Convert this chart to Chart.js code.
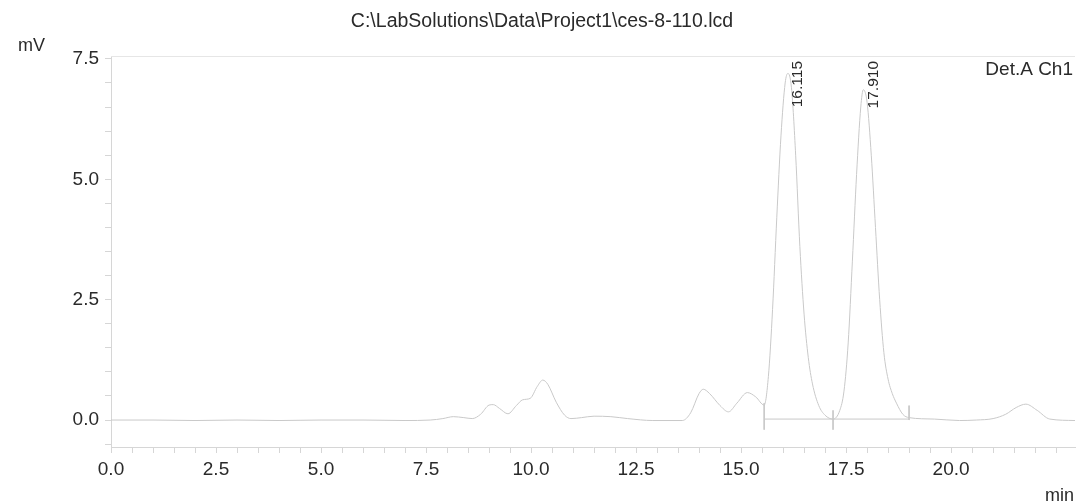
<!DOCTYPE html>
<html>
<head>
<meta charset="utf-8">
<script src="https://cdn.jsdelivr.net/npm/chart.js@4.4.1/dist/chart.umd.min.js"></script>
<style>
  html, body { margin: 0; padding: 0; background: #fff; }
  #wrap { width: 1077px; height: 503px; }
</style>
</head>
<body>
<div id="wrap"><canvas id="myChart" width="1077" height="503"></canvas></div>
<script>
"use strict";

// chromatogram trace (min / mV)
const times = [
    0.0, 1.0, 2.0, 3.0, 4.0, 5.0, 6.0, 7.0, 7.6, 7.9,
    8.15, 8.4, 8.6, 8.8, 9.0, 9.1, 9.25, 9.45, 9.65, 9.8,
    9.98, 10.15, 10.28, 10.4, 10.6, 10.8, 10.95, 11.2, 11.5, 11.9,
    12.3, 12.9, 13.6, 13.8, 14.0, 14.1, 14.25, 14.5, 14.7, 14.9,
    15.15, 15.35, 15.55, 15.65, 15.75, 15.85, 15.95, 16.05, 16.115, 16.2,
    16.3, 16.4, 16.5, 16.6, 16.7, 16.85, 17.0, 17.19, 17.35, 17.45,
    17.55, 17.65, 17.75, 17.85, 17.91, 18.0, 18.1, 18.2, 18.3, 18.4,
    18.5, 18.6, 18.7, 18.85, 19.0, 19.6, 20.2, 20.6, 21.0, 21.3,
    21.55, 21.78, 22.05, 22.35, 22.95
];
const signal = [
    0.0, 0.0, -0.01, 0.0, -0.01, 0.0, 0.0, -0.01, 0.0, 0.03,
    0.07, 0.05, 0.03, 0.12, 0.31, 0.32, 0.24, 0.13, 0.30, 0.42,
    0.45, 0.70, 0.83, 0.74, 0.37, 0.10, 0.03, 0.05, 0.08, 0.07,
    0.03, -0.01, -0.01, 0.15, 0.55, 0.64, 0.55, 0.30, 0.17, 0.35,
    0.57, 0.48, 0.31, 0.9, 2.3, 4.2, 5.9, 7.0, 7.2, 6.9,
    5.5, 3.6, 2.2, 1.3, 0.75, 0.3, 0.1, 0.02, 0.2, 0.6,
    1.6, 3.3, 5.1, 6.5, 6.86, 6.6, 5.5, 4.0, 2.5, 1.4,
    0.85, 0.55, 0.35, 0.12, 0.05, 0.02, -0.01, 0.0, 0.03, 0.12,
    0.26, 0.33, 0.2, 0.02, -0.01
];

// integration baseline and its start / split / end marks
const baseTimes = [15.55, 19.0];
const baseValues = [0.02, 0.02];
const markTimes = [15.55, 17.19, 19.0];
const markTop = [0.35, 0.2, 0.3];
const markBottom = [-0.2, -0.2, 0.0];

const peakTimes = [16.115, 17.910];
const peakLabels = ['16.115', '17.910'];

const xMin = 0, xMax = 22.95;
const yMin = -0.56, yMax = 7.56;
const lastXLabel = 20;

const traceColor = '#c9c9c9';
const axisColor = '#d6d6d6';
const textColor = '#2a2a2a';
const fontFamily = '"Liberation Sans", Arial, sans-serif';

const traceData = times.map((t, i) => ({x: t, y: signal[i]}));
const baseData = baseTimes.map((t, i) => ({x: t, y: baseValues[i]}));
const markSets = markTimes.map((t, i) => ({
    data: [{x: t, y: markTop[i]}, {x: t, y: markBottom[i]}],
    borderColor: traceColor,
    borderWidth: 1,
    pointRadius: 0
}));

function majorLabel(v) {
    return Math.abs(v / 2.5 - Math.round(v / 2.5)) < 1e-6;
}

const labelsPlugin = {
    id: 'chromLabels',
    afterDraw(chart) {
        const ctx = chart.ctx;
        const area = chart.chartArea;
        const xs = chart.scales.x;
        ctx.save();
        // top frame line
        ctx.strokeStyle = '#e6e6e6';
        ctx.lineWidth = 1;
        ctx.beginPath();
        ctx.moveTo(area.left, area.top + 0.5);
        ctx.lineTo(area.right, area.top + 0.5);
        ctx.stroke();

        ctx.fillStyle = textColor;
        ctx.font = '19.5px ' + fontFamily;
        ctx.textAlign = 'center';
        ctx.textBaseline = 'middle';
        ctx.fillText('C:\\LabSolutions\\Data\\Project1\\ces-8-110.lcd', 542, 22);

        ctx.font = '18px ' + fontFamily;
        ctx.textAlign = 'left';
        ctx.fillText('mV', 18, 46);
        ctx.textAlign = 'right';
        ctx.fillText('min', 1074, 496);
        ctx.font = '19px ' + fontFamily;
        ctx.fillText('Det.A Ch1', 1073, 70);

        // retention time labels, rotated
        ctx.font = '15.5px ' + fontFamily;
        peakTimes.forEach((t, i) => {
            const px = xs.getPixelForValue(t) + 10;
            ctx.save();
            ctx.translate(px, area.top + 5);
            ctx.rotate(-Math.PI / 2);
            ctx.textAlign = 'right';
            ctx.textBaseline = 'middle';
            ctx.fillText(peakLabels[i], 0, 0);
            ctx.restore();
        });
        ctx.restore();
    }
};

const ctx = document.getElementById('myChart');

const chart = new Chart(ctx, {
    type: 'line',
    data: {
        datasets: [{
            data: traceData,
            borderColor: traceColor,
            borderWidth: 1,
            pointRadius: 0,
            cubicInterpolationMode: 'monotone'
        }, {
            data: baseData,
            borderColor: traceColor,
            borderWidth: 1,
            pointRadius: 0
        }].concat(markSets)
    },
    options: {
        responsive: false,
        animation: false,
        events: [],
        layout: {
            padding: {top: 56, right: 2, left: 0, bottom: 0}
        },
        plugins: {
            legend: {display: false},
            title: {display: false},
            tooltip: {enabled: false}
        },
        scales: {
            x: {
                type: 'linear',
                min: xMin,
                max: xMax,
                afterFit: (scale) => { scale.height = 56; },
                border: {color: axisColor, width: 1},
                grid: {drawOnChartArea: false, drawTicks: true, tickLength: 6, color: axisColor},
                ticks: {
                    stepSize: 0.5,
                    includeBounds: false,
                    autoSkip: false,
                    maxRotation: 0,
                    padding: 5,
                    color: textColor,
                    font: {family: fontFamily, size: 19},
                    callback: (v) => (majorLabel(v) && v <= lastXLabel) ? v.toFixed(1) : ''
                }
            },
            y: {
                min: yMin,
                max: yMax,
                afterFit: (scale) => { scale.width = 111; },
                border: {color: axisColor, width: 1},
                grid: {drawOnChartArea: false, drawTicks: true, tickLength: 6, color: axisColor},
                ticks: {
                    stepSize: 0.5,
                    includeBounds: false,
                    autoSkip: false,
                    padding: 6,
                    color: textColor,
                    font: {family: fontFamily, size: 19},
                    callback: (v) => majorLabel(v) ? v.toFixed(1) : ''
                }
            }
        }
    },
    plugins: [labelsPlugin]
});
</script>
</body>
</html>
